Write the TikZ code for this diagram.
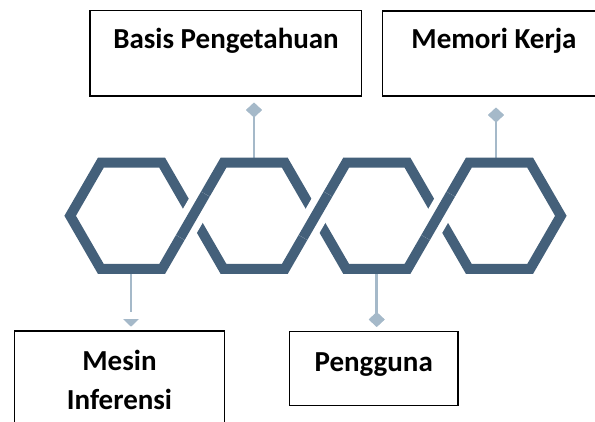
\documentclass[tikz,border=0pt]{standalone}
\usepackage{fontspec}
\setmainfont{Carlito}
\usetikzlibrary{calc,shapes.geometric}
\definecolor{hexblue}{HTML}{44607A}
\definecolor{linkblue}{HTML}{A5B9C9}

\begin{document}
\begin{tikzpicture}[x=1pt,y=-1pt,
  box/.style={draw=black, line width=1.5pt, inner sep=0pt},
  lbl/.style={font=\fontsize{29}{40}\selectfont\bfseries, anchor=base, inner sep=0pt},
  ring/.style={draw=hexblue, line width=10pt, line join=miter},
  link/.style={draw=linkblue, line width=2.5pt},
  pin/.style={diamond, fill=linkblue, inner sep=0pt, minimum width=16pt, minimum height=15pt}]
\useasboundingbox (0,0) rectangle (595,421);
\clip (0,0) rectangle (595,421);

% boxes and their captions
\node[box, minimum width=271.7pt, minimum height=85.3pt] (basis) at (225.85,53.35) {};
\node[lbl] at (226,48.3) {Basis Pengetahuan};
\node[box, minimum width=223.7pt, minimum height=85pt] (memori) at (494.15,53.5) {};
\node[lbl] at (494,48.3) {Memori Kerja};
\node[box, minimum width=210pt, minimum height=120pt] (mesin) at (119.3,391) {};
\node[lbl] at (119.5,370) {Mesin};
\node[lbl] at (119.5,409) {Inferensi};
\node[box, minimum width=168.7pt, minimum height=74pt] (pengguna) at (373.65,368.7) {};
\node[lbl] at (373.7,371.7) {Pengguna};

% hexagon vertices
\def\R{61.33}
\def\H{53.11}
\def\Y{215.8}
\foreach \i/\c in {1/131.5, 2/254.17, 3/376.83, 4/499.5} {
  \coordinate (L\i)  at (\c-\R,\Y);
  \coordinate (TL\i) at (\c-\R/2,\Y-\H);
  \coordinate (TR\i) at (\c+\R/2,\Y-\H);
  \coordinate (R\i)  at (\c+\R,\Y);
  \coordinate (BR\i) at (\c+\R/2,\Y+\H);
  \coordinate (BL\i) at (\c-\R/2,\Y+\H);
}

% connectors and their ends
\coordinate (top2) at (254,\Y-\H);
\coordinate (top4) at (496,\Y-\H);
\coordinate (bot1) at (131,\Y+\H);
\coordinate (bot3) at (376.7,\Y+\H);
\node[pin] (bpin) at (254,110) {};
\node[pin] (mpin) at (496,115) {};
\node[pin] (ppin) at (376.7,319.5) {};
\coordinate (mend) at (131,311.7);
\coordinate (mtip) at (131,326.7);
\draw[link] (top2) -- (bpin.center);
\draw[link] (top4) -- (mpin.center);
\draw[link] (bot3) -- (ppin.center);
\draw[link] (bot1) -- (mend);
\fill[linkblue] ($(mtip)+(-8,-7.7)$) -- ($(mtip)+(8,-7.7)$) -- (mtip) -- cycle;
\node[pin] at (bpin) {};
\node[pin] at (mpin) {};
\node[pin] at (ppin) {};

% interlocking hexagon chain
\foreach \i in {1,2,3,4} {
  \draw[ring] (L\i) -- (TL\i) -- (TR\i) -- (R\i) -- (BR\i) -- (BL\i) -- cycle;
}
\foreach \i/\j in {1/2, 2/3, 3/4} {
  \draw[white, line width=24pt] ($(R\i)!25pt!(BR\i)$) -- ($(R\i)!25pt!(TL\j)$);
  \draw[hexblue, line width=10pt] ($(R\i)!25pt!(BR\i)$) -- ($(R\i)!25pt!(TL\j)$);
}
\end{tikzpicture}
\end{document}
